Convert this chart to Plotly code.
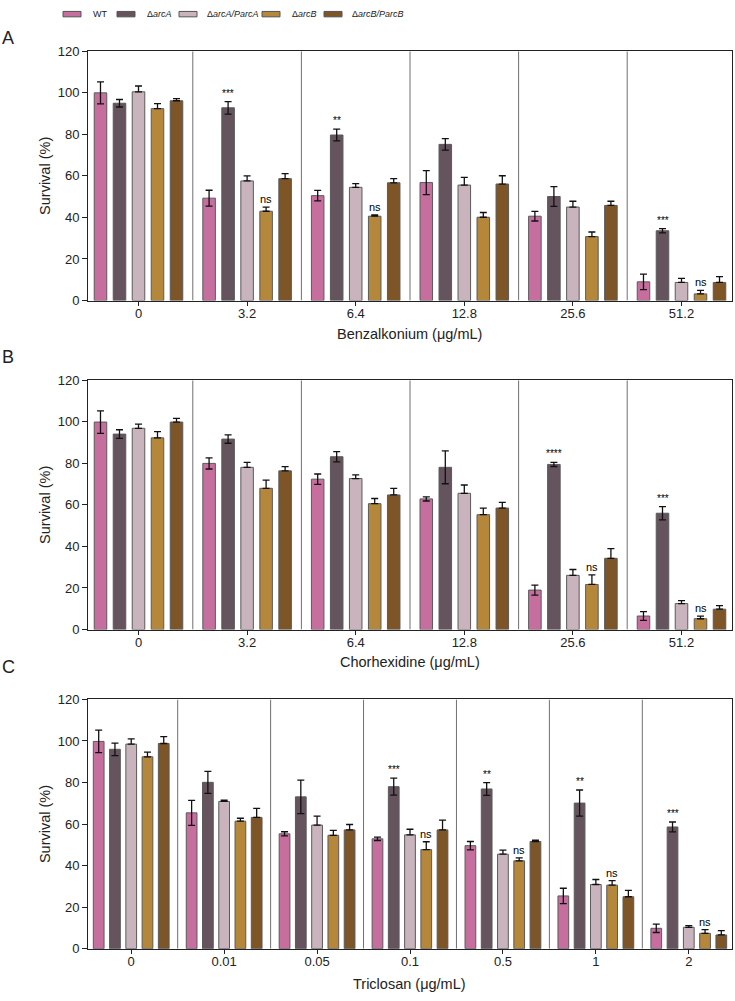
import plotly.graph_objects as go

W, H = 735, 1001

series_names = ["WT", "Δ<i>arcA</i>", "Δ<i>arcA/ParcA</i>", "Δ<i>arcB</i>", "Δ<i>arcB/ParcB</i>"]
series_colors = ["#c66f9f", "#65545d", "#c9b4bd", "#b5873a", "#7e5526"]
symmetric_err = [True, True, False, False, False]

# ---------------- Panel A: Benzalkonium ----------------
groupsA = ["0", "3.2", "6.4", "12.8", "25.6", "51.2"]
A_WT = [100.0, 49.3, 50.5, 56.8, 40.6, 9.0]
A_WT_err = [5.3, 3.8, 2.5, 5.8, 2.3, 3.7]
A_arcA = [95.0, 92.8, 79.7, 75.2, 50.1, 33.6]
A_arcA_err = [1.8, 3.0, 2.8, 2.8, 4.8, 1.0]
A_ParcA = [100.5, 57.6, 54.5, 55.6, 45.0, 8.7]
A_ParcA_err = [2.8, 2.4, 1.8, 3.7, 2.8, 2.0]
A_arcB = [92.4, 43.0, 40.6, 40.1, 30.8, 3.2]
A_arcB_err = [2.4, 2.0, 0.6, 2.3, 2.2, 1.7]
A_ParcB = [96.2, 58.7, 56.7, 56.1, 45.8, 8.7]
A_ParcB_err = [1.0, 2.4, 2.0, 4.0, 2.0, 2.8]
A_arcA_sig = ["", "***", "**", "", "", "***"]
A_arcB_sig = ["", "ns", "ns", "", "", "ns"]

# ---------------- Panel B: Chlorhexidine ----------------
groupsB = ["0", "3.2", "6.4", "12.8", "25.6", "51.2"]
B_WT = [99.9, 80.0, 72.4, 62.9, 19.0, 6.5]
B_WT_err = [5.4, 2.7, 2.5, 1.0, 2.4, 2.1]
B_arcA = [94.1, 91.7, 83.2, 78.1, 79.5, 56.0]
B_arcA_err = [2.1, 2.0, 2.5, 7.9, 1.0, 3.2]
B_ParcA = [96.9, 78.1, 72.7, 65.6, 26.1, 12.5]
B_ParcA_err = [2.0, 2.4, 1.8, 4.0, 2.8, 1.4]
B_arcB = [92.3, 68.0, 60.6, 55.3, 21.7, 5.2]
B_arcB_err = [3.0, 3.9, 2.5, 3.2, 4.6, 1.3]
B_ParcB = [99.9, 76.4, 64.8, 58.5, 34.3, 9.8]
B_ParcB_err = [1.8, 2.0, 3.2, 2.7, 4.7, 1.7]
B_arcA_sig = ["", "", "", "", "****", "***"]
B_arcB_sig = ["", "", "", "", "ns", "ns"]

# ---------------- Panel C: Triclosan ----------------
groupsC = ["0", "0.01", "0.05", "0.1", "0.5", "1", "2"]
C_WT = [99.8, 65.4, 55.3, 52.9, 49.6, 25.4, 9.8]
C_WT_err = [5.4, 6.0, 1.0, 0.8, 2.0, 3.7, 2.0]
C_arcA = [96.0, 80.1, 73.1, 78.0, 76.9, 70.1, 58.6]
C_arcA_err = [3.0, 5.3, 8.1, 4.1, 3.1, 6.3, 2.4]
C_ParcA = [98.5, 70.9, 59.5, 54.8, 45.5, 30.9, 10.3]
C_ParcA_err = [2.5, 0.6, 4.3, 2.7, 2.0, 2.4, 0.8]
C_arcB = [92.4, 61.4, 54.6, 47.7, 42.3, 30.6, 7.4]
C_arcB_err = [2.2, 1.4, 2.4, 3.8, 1.4, 2.2, 1.8]
C_ParcB = [98.8, 63.2, 57.2, 57.2, 51.6, 25.0, 6.6]
C_ParcB_err = [3.3, 4.4, 2.6, 4.7, 0.7, 3.1, 2.1]
C_arcA_sig = ["", "", "", "***", "**", "**", "***"]
C_arcB_sig = ["", "", "", "ns", "ns", "ns", "ns"]

y_ticks = [0, 20, 40, 60, 80, 100, 120]

panels = [
    dict(letter="A", title="Benzalkonium (μg/mL)", groups=groupsA,
         vals=[A_WT, A_arcA, A_ParcA, A_arcB, A_ParcB],
         errs=[A_WT_err, A_arcA_err, A_ParcA_err, A_arcB_err, A_ParcB_err],
         sigs={1: A_arcA_sig, 3: A_arcB_sig}, top=45, bottom=298, title_y=332, letter_y=31),
    dict(letter="B", title="Chorhexidine (μg/mL)", groups=groupsB,
         vals=[B_WT, B_arcA, B_ParcA, B_arcB, B_ParcB],
         errs=[B_WT_err, B_arcA_err, B_ParcA_err, B_arcB_err, B_ParcB_err],
         sigs={1: B_arcA_sig, 3: B_arcB_sig}, top=379, bottom=632, title_y=665, letter_y=355),
    dict(letter="C", title="Triclosan (μg/mL)", groups=groupsC,
         vals=[C_WT, C_arcA, C_ParcA, C_arcB, C_ParcB],
         errs=[C_WT_err, C_arcA_err, C_ParcA_err, C_arcB_err, C_ParcB_err],
         sigs={1: C_arcA_sig, 3: C_arcB_sig}, top=703, bottom=956, title_y=992, letter_y=670),
]

FONT = "Liberation Sans, Arial, sans-serif"
BARGAP = 0.125
NSER = len(series_names)
slot = (1 - BARGAP) / NSER
X0, X1 = 88, 732

fig = go.Figure()
layout = dict(
    width=W, height=H, margin=dict(l=0, r=0, t=0, b=0),
    paper_bgcolor="white", plot_bgcolor="white",
    barmode="group", bargap=BARGAP, bargroupgap=0.34,
    showlegend=False, font=dict(family=FONT, color="#222"),
)
shapes = []
annotations = []

for k, p in enumerate(panels):
    sfx = "" if k == 0 else str(k + 1)
    xa, ya = "x" + sfx, "y" + sfx
    n = len(p["groups"])
    xs = list(range(n))
    for j in range(NSER):
        err = p["errs"][j]
        if symmetric_err[j]:
            ey = dict(type="data", array=err, visible=True, color="#111", thickness=1.3, width=3.5)
        else:
            ey = dict(type="data", array=err, arrayminus=[0] * n, symmetric=False,
                      visible=True, color="#111", thickness=1.3, width=3.5)
        fig.add_trace(go.Bar(
            x=xs, y=p["vals"][j], name=series_names[j], xaxis=xa, yaxis=ya,
            marker=dict(color=series_colors[j], line=dict(color="#5a5a5a", width=1)),
            error_y=ey,
        ))
    # significance labels
    for j, labels in p["sigs"].items():
        for i, lab in enumerate(labels):
            if not lab:
                continue
            yv = p["vals"][j][i] + p["errs"][j][i]
            xv = i + (j - (NSER - 1) / 2) * slot
            star = "*" in lab
            annotations.append(dict(
                x=xv, y=yv, xref=xa, yref=ya, text=lab, showarrow=False,
                xanchor="center", yanchor="bottom", yshift=1 if star else 0,
                font=dict(family=FONT, size=10 if star else 11, color="#000"),
            ))
    # separators between groups
    for i in range(n - 1):
        shapes.append(dict(type="line", xref=xa, yref=ya, x0=i + 0.5, x1=i + 0.5,
                           y0=0, y1=120, line=dict(color="#707070", width=1)))
    dom_y = [1 - p["bottom"] / H, 1 - p["top"] / H]
    layout["xaxis" + sfx] = dict(
        domain=[X0 / W, X1 / W], range=[-0.465, n - 0.535], anchor=ya,
        tickvals=xs, ticktext=p["groups"], ticks="outside", ticklen=4, tickcolor="#222",
        ticklabelstandoff=-3,
        showline=True, linecolor="#222", linewidth=1, mirror=True,
        showgrid=False, zeroline=False, tickfont=dict(family=FONT, size=13, color="#222"),
        fixedrange=True,
    )
    layout["yaxis" + sfx] = dict(
        domain=dom_y, range=[0, 120], anchor=xa, tickvals=y_ticks,
        ticks="outside", ticklen=5, tickcolor="#222",
        showline=True, linecolor="#222", linewidth=1, mirror=True,
        showgrid=False, zeroline=False, tickfont=dict(family=FONT, size=13, color="#222"),
    )
    # axis titles
    annotations.append(dict(x=(X0 + X1) / 2 / W, y=1 - p["title_y"] / H, xref="paper", yref="paper",
                            text=p["title"], showarrow=False, xanchor="center", yanchor="middle",
                            font=dict(family=FONT, size=14.5, color="#222")))
    annotations.append(dict(x=45 / W, y=1 - (p["top"] + p["bottom"]) / 2 / H, xref="paper", yref="paper",
                            text="Survival (%)", showarrow=False, textangle=-90,
                            xanchor="center", yanchor="middle",
                            font=dict(family=FONT, size=14.5, color="#222")))
    annotations.append(dict(x=0 / W, y=1 - p["letter_y"] / H, xref="paper", yref="paper",
                            text=p["letter"], showarrow=False, xanchor="left", yanchor="middle",
                            font=dict(family=FONT, size=18, color="#222")))

# manual legend at top
sw_x = [63, 117, 179, 262, 324]
tx_x = [91, 145, 205, 290, 350]
for j in range(NSER):
    shapes.append(dict(type="rect", xref="paper", yref="paper",
                       x0=sw_x[j] / W, x1=(sw_x[j] + 18) / W, y0=1 - 10 / H, y1=1 - 4.5 / H,
                       fillcolor=series_colors[j], line=dict(color="#555", width=1)))
    annotations.append(dict(x=tx_x[j] / W, y=1 - 7.5 / H, xref="paper", yref="paper",
                            text=series_names[j], showarrow=False, xanchor="left", yanchor="middle",
                            font=dict(family=FONT, size=9, color="#222")))

layout["shapes"] = shapes
layout["annotations"] = annotations
fig.update_layout(**layout)
fig.write_html("out.html")
